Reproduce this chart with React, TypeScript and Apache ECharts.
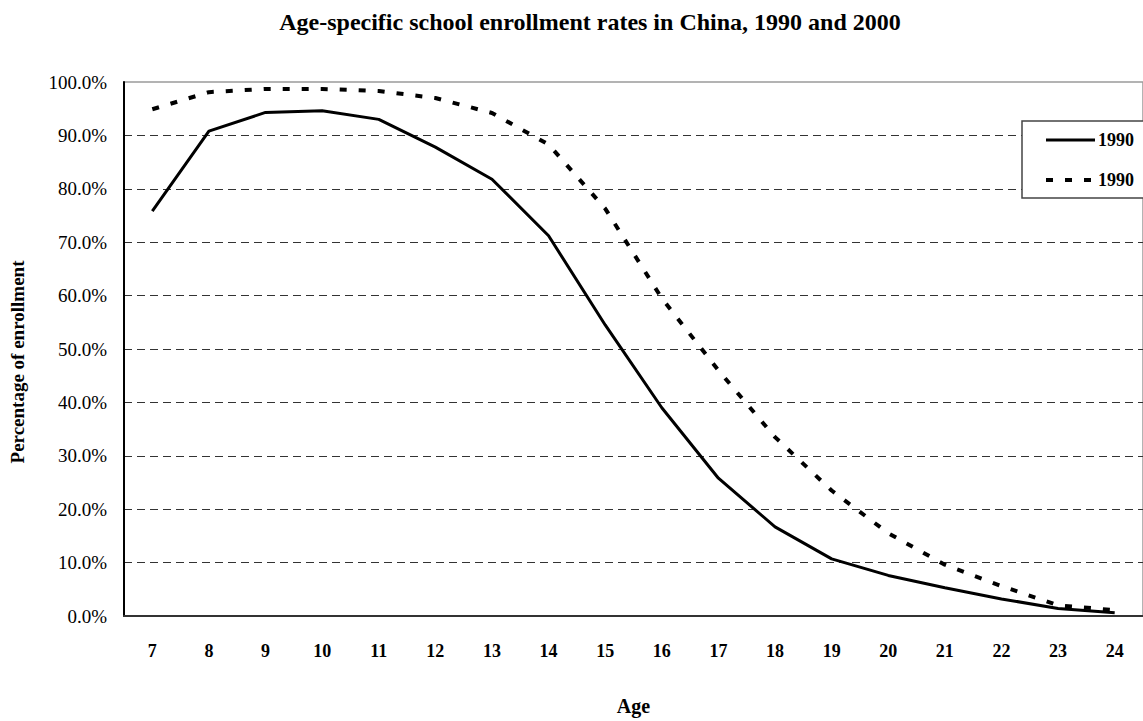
import React, { useEffect, useRef } from "react";
import * as echarts from "echarts";

const ages = ["7", "8", "9", "10", "11", "12", "13", "14", "15", "16", "17", "18", "19", "20", "21", "22", "23", "24"];
const enrollment1990 = [75.8, 90.8, 94.3, 94.6, 93.0, 87.8, 81.8, 71.2, 54.5, 39.0, 25.8, 16.7, 10.7, 7.6, 5.3, 3.2, 1.4, 0.6];
const enrollment2000 = [94.9, 98.1, 98.7, 98.7, 98.3, 97.0, 94.2, 88.3, 76.3, 59.5, 46.0, 33.5, 23.5, 15.5, 9.6, 5.6, 2.0, 1.1];
const seriesNames = ["1990", "1990"];
const yTicks = [0, 10, 20, 30, 40, 50, 60, 70, 80, 90, 100];

const FONT = "'Liberation Serif', 'Times New Roman', serif";

export default function App() {
  const ref = useRef<HTMLDivElement>(null);
  useEffect(() => {
    document.body.style.margin = "0";
    if (!ref.current) return;
    const chart = echarts.init(ref.current, undefined, { renderer: "svg" });
    const splitColors = yTicks.map((t) => (t === 100 || t === 0 ? "rgba(0,0,0,0)" : "#333"));
    chart.setOption({
      animation: false,
      backgroundColor: "#fff",
      textStyle: { fontFamily: FONT },
      title: {
        text: "Age-specific school enrollment rates in China, 1990 and 2000",
        left: 585,
        top: 5,
        textAlign: "center",
        textStyle: { fontFamily: FONT, fontWeight: "bold", fontSize: 24, color: "#000" },
      },
      grid: {
        left: 120,
        top: 82,
        width: 1026,
        height: 549,
        show: true,
        borderColor: "#9a9a9a",
        borderWidth: 1.5,
        containLabel: false,
      },
      xAxis: {
        type: "category",
        data: ages,
        boundaryGap: true,
        name: "Age",
        nameLocation: "middle",
        nameGap: 80,
        nameTextStyle: { fontFamily: FONT, fontWeight: "bold", fontSize: 20, color: "#000" },
        axisLine: { lineStyle: { color: "#333", width: 2 } },
        axisTick: { inside: true, length: 7, lineStyle: { color: "#333", width: 1.5 } },
        axisLabel: { margin: 26, fontFamily: FONT, fontWeight: "bold", fontSize: 18, color: "#000" },
        splitLine: { show: false },
      },
      yAxis: {
        type: "value",
        min: 0,
        max: 100,
        interval: 10,
        name: "Percentage of enrollment",
        nameLocation: "middle",
        nameGap: 97,
        nameTextStyle: { fontFamily: FONT, fontWeight: "bold", fontSize: 19, color: "#000", padding: [0, 26, 0, 0] },
        axisLine: { show: true, lineStyle: { color: "#000", width: 2 } },
        axisTick: { show: false },
        axisLabel: {
          margin: 17,
          fontFamily: FONT,
          fontSize: 19,
          color: "#000",
          formatter: (v: number) => v.toFixed(1) + "%",
        },
        splitLine: { show: true, lineStyle: { color: splitColors, width: 1, type: [8, 5] } },
      },
      series: [
        {
          name: seriesNames[0],
          type: "line",
          data: enrollment1990,
          symbol: "none",
          lineStyle: { color: "#000", width: 3 },
        },
        {
          name: seriesNames[1],
          type: "line",
          data: enrollment2000,
          symbol: "none",
          lineStyle: { color: "#000", width: 4, type: [7, 12] },
        },
      ],
      graphic: [
        {
          type: "rect",
          shape: { x: 1022, y: 121, width: 140, height: 77 },
          style: { fill: "#fff", stroke: "#444", lineWidth: 1.5 },
          z: 100,
        },
        {
          type: "line",
          shape: { x1: 1046, y1: 140, x2: 1095, y2: 140 },
          style: { stroke: "#000", lineWidth: 3 },
          z: 101,
        },
        {
          type: "text",
          x: 1098,
          y: 140,
          style: { text: seriesNames[0], fontFamily: FONT, fontWeight: "bold", fontSize: 18, fill: "#000", textVerticalAlign: "middle" },
          z: 101,
        },
        {
          type: "line",
          shape: { x1: 1046, y1: 180, x2: 1095, y2: 180 },
          style: { stroke: "#000", lineWidth: 4, lineDash: [7, 12] },
          z: 101,
        },
        {
          type: "text",
          x: 1098,
          y: 180,
          style: { text: seriesNames[1], fontFamily: FONT, fontWeight: "bold", fontSize: 18, fill: "#000", textVerticalAlign: "middle" },
          z: 101,
        },
      ],
    });
    return () => chart.dispose();
  }, []);
  return <div ref={ref} style={{ width: 1143, height: 721 }} />;
}
